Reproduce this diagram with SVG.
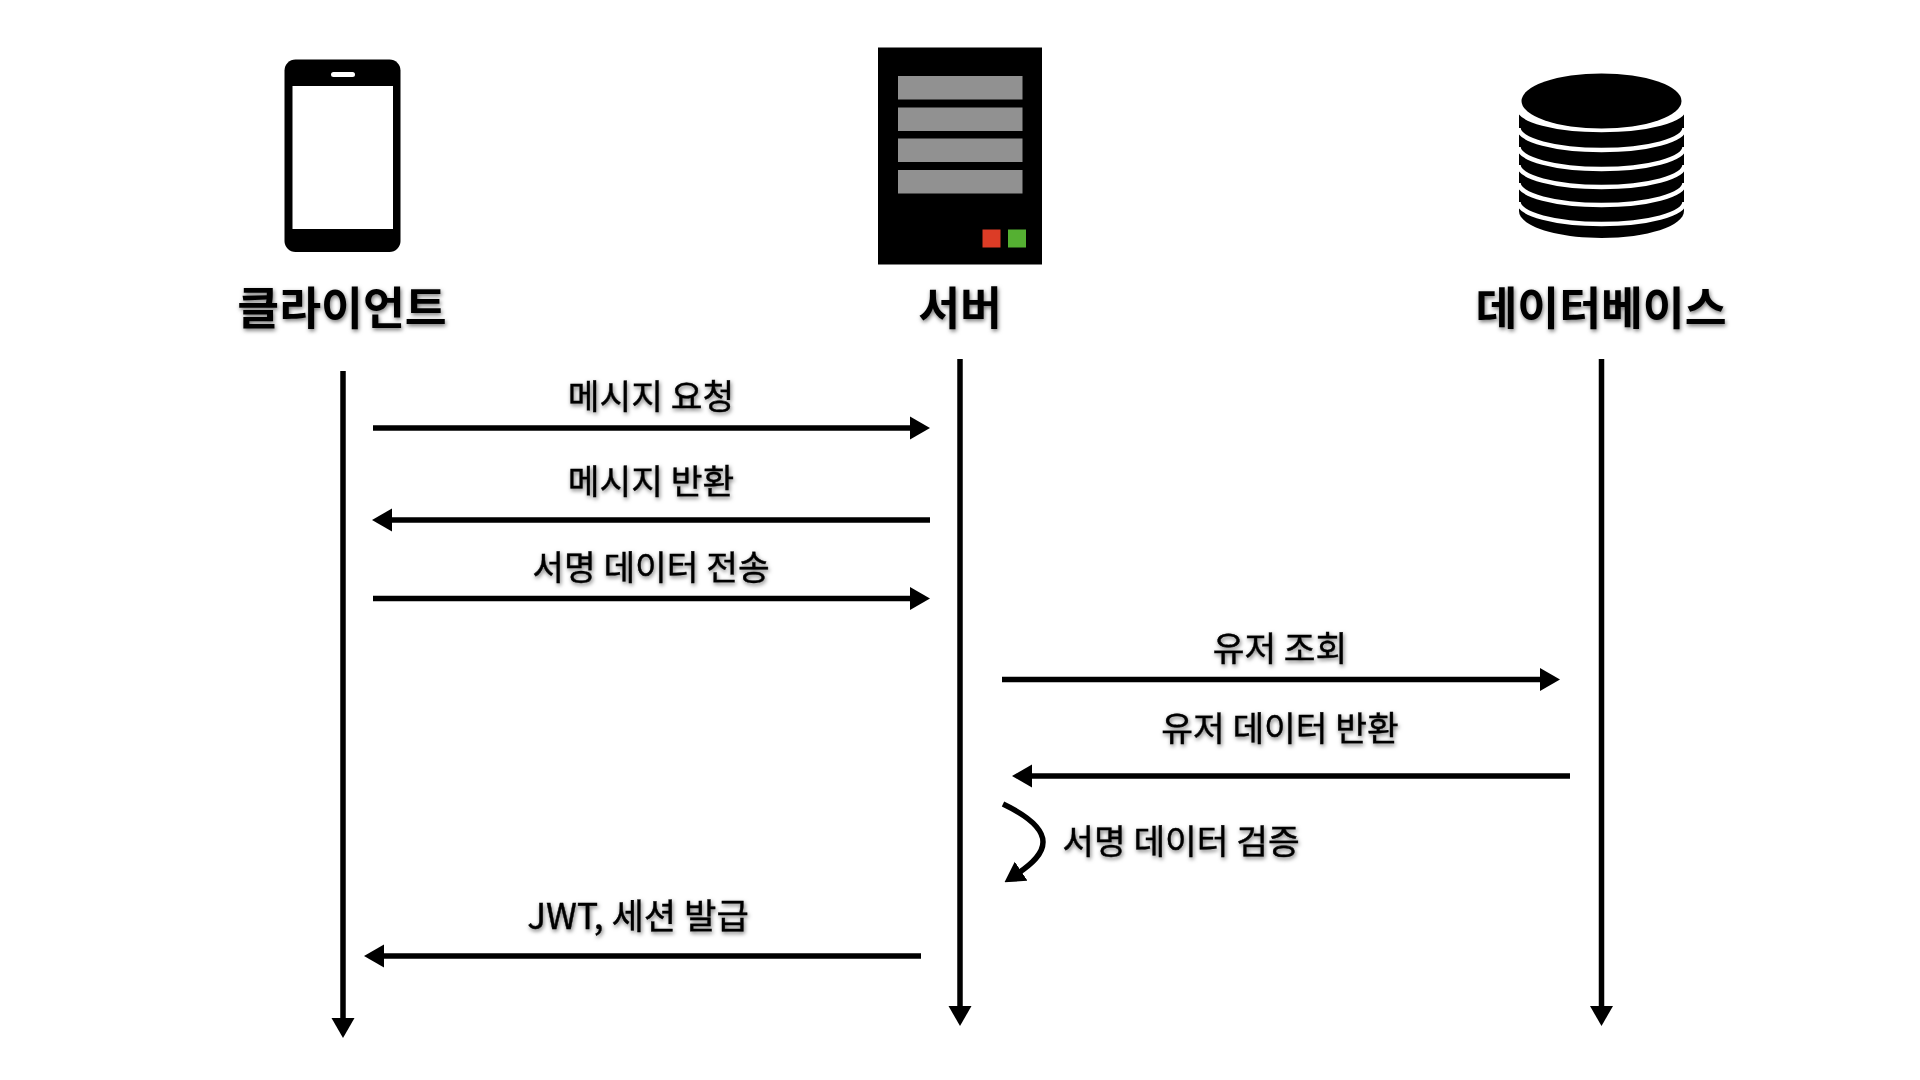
<svg xmlns="http://www.w3.org/2000/svg" width="1920" height="1080" viewBox="0 0 1920 1080">
<defs>
<style>
text{font-family:"Noto Sans CJK KR","Noto Sans",sans-serif;fill:#000;text-anchor:middle;filter:url(#sh)}
.t{font-size:45.5px;font-weight:700}
.l{font-size:34.5px;font-weight:400;stroke:#000;stroke-width:.4}
.c{stroke:#000;stroke-width:5.5;fill:none}
</style>
<filter id="sh" x="-10%" y="-20%" width="120%" height="150%"><feDropShadow dx="1" dy="2" stdDeviation="2" flood-color="#000" flood-opacity=".55"/></filter>
<marker id="a" markerUnits="userSpaceOnUse" markerWidth="20" markerHeight="24" refX="5" refY="12" orient="auto"><path d="M0 .5L20 12L0 23.500Z"/></marker>
</defs>
<rect width="1920" height="1080" fill="#fff"/>
<g id="client">
<rect x="284.5" y="59.500" width="116" height="192.500" rx="11" fill="#000"/>
<rect x="292.5" y="86" width="100.500" height="143" fill="#fff"/>
<rect x="331" y="72" width="24" height="5" rx="2.500" fill="#fff"/>
<text class="t" x="342" y="325">클라이언트</text>
</g>
<g id="server">
<rect x="878" y="47.500" width="164" height="217" fill="#000"/>
<g fill="#919191"><rect x="898" y="76" width="124.500" height="23.500"/><rect x="898" y="107.500" width="124.500" height="23.500"/><rect x="898" y="138.500" width="124.500" height="23.500"/><rect x="898" y="170" width="124.500" height="23.500"/></g>
<rect x="982.500" y="229.500" width="18" height="18" fill="#dc3c26"/>
<rect x="1008" y="229.500" width="18" height="18" fill="#55b032"/>
<text class="t" x="960" y="325">서버</text>
</g>
<g id="database">
<path d="M1519 104V211C1519 226 1556 238 1601.500 238S1684 226 1684 211V104Z" fill="#000"/>
<path d="M1515 90H1688V108H1684.500A83 22 0 0 1 1518.500 108H1515Z" fill="#fff"/>
<g fill="none" stroke="#fff" stroke-width="4.500"><path d="M1518.500 108A83 22 0 0 0 1684.500 108"/><path d="M1518.500 128A83 22 0 0 0 1684.500 128"/><path d="M1518.500 147A83 22 0 0 0 1684.500 147"/><path d="M1518.500 165A83 22 0 0 0 1684.500 165"/><path d="M1518.500 183A83 22 0 0 0 1684.500 183"/><path d="M1518.500 202A83 22 0 0 0 1684.500 202"/></g>
<ellipse cx="1601.500" cy="101" rx="80" ry="27.500" fill="#000"/>
<text class="t" x="1601" y="325">데이터베이스</text>
</g>
<g id="connectors">
<path class="c" marker-end="url(#a)" d="M343 371V1023"/>
<path class="c" marker-end="url(#a)" d="M960 359V1011"/>
<path class="c" marker-end="url(#a)" d="M1601.500 359V1011"/>
<path class="c" marker-end="url(#a)" d="M373 428H915"/>
<path class="c" marker-end="url(#a)" d="M930 520H387"/>
<path class="c" marker-end="url(#a)" d="M373 598.500H915"/>
<path class="c" marker-end="url(#a)" d="M1002 679.500H1545"/>
<path class="c" marker-end="url(#a)" d="M1570 776H1027"/>
<path class="c" marker-end="url(#a)" d="M921 956H379"/>
<path class="c" marker-end="url(#a)" d="M1003 804C1028 816 1043 829 1043 842C1043 854 1032 864 1017 874"/>
</g>
<g id="labels">
<text class="l" x="651" y="408.500">메시지 요청</text>
<text class="l" x="651" y="493.500">메시지 반환</text>
<text class="l" x="651" y="579.500">서명 데이터 전송</text>
<text class="l" x="1280" y="660.500">유저 조회</text>
<text class="l" x="1280" y="740.500">유저 데이터 반환</text>
<text class="l" x="1181" y="853.500">서명 데이터 검증</text>
<text class="l" x="638" y="928.500" style="font-size:35.200px">JWT, 세션 발급</text>
</g>
</svg>
